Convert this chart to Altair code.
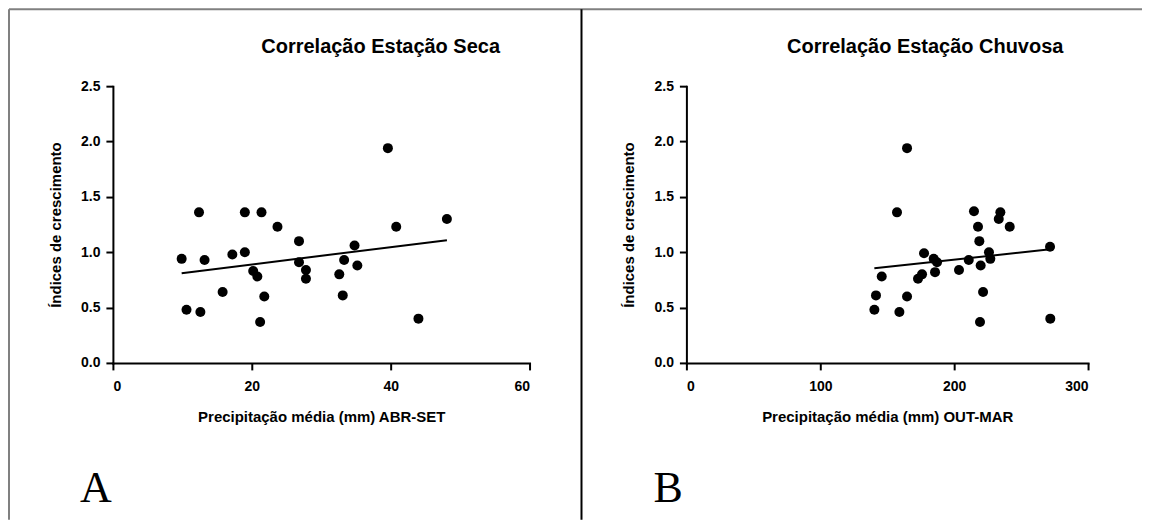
import altair as alt
import pandas as pd

# Estação seca (ABR-SET)
seca_x = [9.9, 12.4, 13.2, 10.6, 12.6, 15.8, 17.2, 19.0, 19.0, 21.4, 20.2, 20.8, 21.8, 21.2,
          23.7, 26.8, 26.8, 27.8, 27.8, 32.6, 33.1, 33.3, 34.8, 35.2, 39.6, 40.8, 44.0, 48.1]
seca_y = [0.94, 1.36, 0.93, 0.48, 0.46, 0.64, 0.98, 1.36, 1.00, 1.36, 0.83, 0.78, 0.60, 0.37,
          1.23, 1.10, 0.91, 0.84, 0.76, 0.80, 0.61, 0.93, 1.06, 0.88, 1.94, 1.23, 0.40, 1.30]

# Estação chuvosa (OUT-MAR)
chuva_x = [164.8, 157.3, 214.8, 234.5, 233.3, 217.8, 241.5, 218.8, 271.6, 226.0, 177.5, 184.7,
           187.2, 210.9, 227.0, 219.8, 203.6, 185.7, 176.0, 173.0, 145.9, 141.6, 164.8, 221.6,
           140.4, 159.1, 219.3, 271.8]
chuva_y = [1.94, 1.36, 1.37, 1.36, 1.30, 1.23, 1.23, 1.10, 1.05, 1.00, 0.99, 0.94, 0.91, 0.93,
           0.94, 0.88, 0.84, 0.82, 0.80, 0.76, 0.78, 0.61, 0.60, 0.64, 0.48, 0.46, 0.37, 0.40]

titles = ["Correlação Estação Seca", "Correlação Estação Chuvosa"]
x_titles = ["Precipitação média (mm) ABR-SET", "Precipitação média (mm) OUT-MAR"]
y_title = "Índices de crescimento"
letters = ["A", "B"]
x_ticks = [[0, 20, 40, 60], [0, 100, 200, 300]]
y_ticks = [0, 0.5, 1.0, 1.5, 2.0, 2.5]

FONT = "Liberation Sans"
H = 277


def panel(xs, ys, title, title_x, xtitle, xticks, letter, w, left):
    df = pd.DataFrame({"x": xs, "y": ys})
    xenc = alt.X("x:Q",
                 scale=alt.Scale(domain=[xticks[0], xticks[-1]], nice=False),
                 axis=alt.Axis(values=xticks, format="d", title=xtitle))
    yenc = alt.Y("y:Q",
                 scale=alt.Scale(domain=[0, 2.5], nice=False),
                 axis=alt.Axis(values=y_ticks, format=".1f", title=y_title))
    pts = alt.Chart(df).mark_circle(size=100, color="black", opacity=1).encode(x=xenc, y=yenc)
    reg = alt.Chart(df).transform_regression("x", "y").mark_line(
        color="black", strokeWidth=2).encode(x="x:Q", y="y:Q")
    lab = alt.Chart(pd.DataFrame({"t": [letter]})).mark_text(
        font="Liberation Serif", fontSize=44, align="left", baseline="alphabetic",
        color="black").encode(text="t:N", x=alt.value(-33), y=alt.value(416))
    ttl = alt.Chart(pd.DataFrame({"t": [title]})).mark_text(
        font=FONT, fontSize=20, fontWeight="bold", align="center", baseline="alphabetic",
        color="black").encode(text="t:N", x=alt.value(title_x), y=alt.value(-33))
    one = pd.DataFrame({"a": [0]})
    layers = [pts, reg, lab, ttl]
    if left:
        lb = alt.Chart(one).mark_rule(color="#808080", strokeWidth=2).encode(
            x=alt.value(-104), y=alt.value(-77), y2=alt.value(434))
        tb = alt.Chart(one).mark_rule(color="#808080", strokeWidth=2).encode(
            x=alt.value(-104), x2=alt.value(1030), y=alt.value(-77))
        dv = alt.Chart(one).mark_rule(color="black", strokeWidth=2).encode(
            x=alt.value(469), y=alt.value(-77), y2=alt.value(434))
        layers += [lb, tb, dv]
    return alt.layer(*layers).properties(width=w, height=H)


a = panel(seca_x, seca_y, titles[0], 268, x_titles[0], x_ticks[0], letters[0], 417, True)
b = panel(chuva_x, chuva_y, titles[1], 239, x_titles[1], x_ticks[1], letters[1], 402, False)

chart = alt.hconcat(a, b, spacing=157, bounds="flush").properties(
    padding=0
).configure_view(stroke=None).configure_axis(
    grid=False, domainColor="black", domainWidth=2, domainCap="square",
    tickColor="black", tickWidth=2, tickSize=7,
    labelFont=FONT, labelFontWeight="bold", labelFontSize=14, labelColor="black",
    titleFont=FONT, titleFontWeight="bold", titleFontSize=15, titleColor="black",
).configure_axisX(labelPadding=10, titlePadding=16).configure_axisY(
    labelPadding=6, titlePadding=17)

chart.save("out.html", embed_options={"renderer": "svg", "actions": False})
